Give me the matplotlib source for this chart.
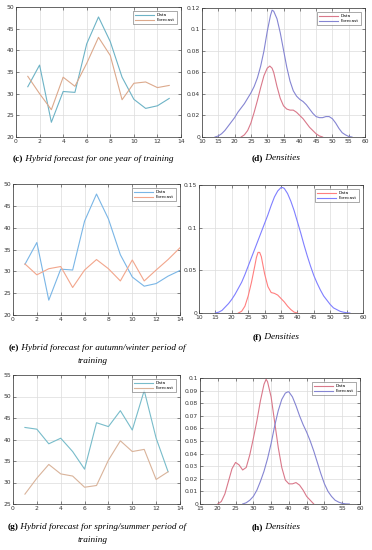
import matplotlib as mpl
mpl.use('Agg')
import matplotlib.pyplot as plt

# ---- data ----
steps13 = list(range(1, 14))
steps14 = list(range(1, 15))

c_data = [31.6, 36.6, 23.4, 30.5, 30.3, 41.5, 47.7, 42.0, 33.8, 28.7, 26.6, 27.2, 28.9]
c_fore = [34.0, 30.0, 26.3, 33.8, 31.7, 37.0, 43.0, 38.8, 28.6, 32.4, 32.7, 31.4, 31.9]

e_data = [31.6, 36.6, 23.4, 30.5, 30.3, 41.5, 47.7, 42.0, 33.8, 28.7, 26.6, 27.2, 28.9, 30.2]
e_fore = [31.7, 29.2, 30.6, 31.1, 26.3, 30.3, 32.7, 30.6, 27.8, 32.6, 27.8, 30.3, 32.7, 35.4]

g_data = [42.8, 42.4, 39.0, 40.3, 37.2, 33.1, 43.9, 43.0, 46.7, 42.2, 51.4, 40.3, 32.5]
g_fore = [27.3, 31.0, 34.2, 32.0, 31.5, 28.9, 29.3, 35.2, 39.7, 37.2, 37.7, 30.7, 32.5]

d_red_x = [22, 23, 24, 25, 26, 27, 28, 29, 30, 30.8, 31.5, 32, 33, 34, 35, 36, 37, 38,
           39, 40, 41, 42, 43, 44, 45, 46, 47]
d_red_y = [0, 0.002, 0.006, 0.013, 0.023, 0.034, 0.046, 0.057, 0.064, 0.066, 0.064, 0.060,
           0.047, 0.036, 0.029, 0.026, 0.025, 0.025, 0.023, 0.020, 0.017, 0.013, 0.009,
           0.006, 0.003, 0.001, 0]
d_blue_x = [14, 15, 16, 17, 18, 19, 20, 21, 22, 23, 24, 25, 26, 27, 28, 29, 30, 31, 31.5,
            32, 33, 34, 35, 36, 37, 38, 39, 40, 41, 42, 43, 44, 45, 46, 47, 48, 49, 50,
            51, 52, 53, 54, 55, 56]
d_blue_y = [0, 0.001, 0.003, 0.006, 0.010, 0.014, 0.018, 0.023, 0.027, 0.031, 0.036, 0.041,
            0.047, 0.055, 0.066, 0.080, 0.098, 0.113, 0.118, 0.117, 0.110, 0.097, 0.081,
            0.065, 0.052, 0.043, 0.038, 0.035, 0.033, 0.030, 0.026, 0.022, 0.019, 0.018,
            0.018, 0.019, 0.019, 0.017, 0.013, 0.008, 0.004, 0.002, 0.0005, 0]

f_red_x = [22, 23, 24, 25, 26, 27, 27.5, 28, 28.5, 29, 30, 31, 32, 33, 34, 35, 36, 37, 38,
           39, 40]
f_red_y = [0, 0.002, 0.008, 0.020, 0.036, 0.055, 0.065, 0.071, 0.071, 0.066, 0.046, 0.031,
           0.024, 0.023, 0.021, 0.017, 0.013, 0.008, 0.004, 0.001, 0]
f_blue_x = [15, 16, 17, 18, 19, 20, 21, 22, 23, 24, 25, 26, 27, 28, 29, 30, 31, 32, 33, 34,
            35, 35.5, 36, 37, 38, 39, 40, 41, 42, 43, 44, 45, 46, 47, 48, 49, 50, 51, 52,
            53, 54, 55, 56]
f_blue_y = [0, 0.001, 0.003, 0.007, 0.011, 0.016, 0.022, 0.029, 0.036, 0.045, 0.055, 0.065,
            0.075, 0.085, 0.095, 0.105, 0.115, 0.126, 0.136, 0.143, 0.147, 0.147, 0.146,
            0.140, 0.131, 0.120, 0.107, 0.094, 0.080, 0.067, 0.055, 0.044, 0.035, 0.027,
            0.020, 0.015, 0.010, 0.006, 0.004, 0.002, 0.001, 0.0003, 0]

h_red_x = [20, 21, 22, 23, 24, 25, 26, 27, 28, 29, 30, 31, 32, 33, 33.6, 34, 35, 36, 37,
           38, 39, 40, 41, 42, 43, 44, 45, 46, 47]
h_red_y = [0, 0.002, 0.008, 0.018, 0.028, 0.033, 0.031, 0.027, 0.029, 0.039, 0.052, 0.066,
           0.082, 0.095, 0.099, 0.097, 0.085, 0.065, 0.045, 0.029, 0.019, 0.016, 0.016,
           0.017, 0.015, 0.011, 0.006, 0.003, 0]
h_blue_x = [27, 28, 29, 30, 31, 32, 33, 34, 35, 36, 37, 38, 39, 39.7, 40, 41, 42, 43, 44,
            45, 46, 47, 48, 49, 50, 51, 52, 53, 54, 55, 56, 57]
h_blue_y = [0, 0.001, 0.003, 0.006, 0.011, 0.018, 0.026, 0.036, 0.048, 0.062, 0.074, 0.083,
            0.088, 0.089, 0.089, 0.085, 0.078, 0.070, 0.063, 0.057, 0.050, 0.042, 0.033,
            0.024, 0.016, 0.010, 0.006, 0.003, 0.0015, 0.0005, 0.0001, 0]

W, H = 372, 550
fig = plt.figure(figsize=(W / 100, H / 100), dpi=100)


def make_ax(x0, y0, x1, y1):
    ax = fig.add_axes([x0 / W, 1 - y1 / H, (x1 - x0) / W, (y1 - y0) / H])
    ax.grid(True, color='#dcdcdc', linewidth=0.5)
    ax.set_axisbelow(True)
    ax.tick_params(direction='in', length=2, width=0.4, labelsize=4.3,
                   colors='#333333', pad=1.5, top=True, right=True)
    for s in ax.spines.values():
        s.set_linewidth(0.5)
        s.set_color('#333333')
    return ax


def legend(ax):
    leg = ax.legend(loc='upper right', fontsize=3.1, frameon=True, fancybox=False,
                    handlelength=4.5, borderpad=0.5, labelspacing=0.25,
                    borderaxespad=0.9, handletextpad=0.6)
    leg.get_frame().set_linewidth(0.4)
    leg.get_frame().set_edgecolor('#444444')


def fmt(v):
    return ('%g' % v)


def caption(cx, y, tag, text):
    r = fig.canvas.get_renderer()
    t1 = fig.text(0, 0, tag, fontsize=6.7, family='Liberation Serif', weight='bold')
    t2 = fig.text(0, 0, ' ' + text, fontsize=6.7, family='Liberation Serif', style='italic')
    w1 = t1.get_window_extent(r).width
    w2 = t2.get_window_extent(r).width
    x = cx - (w1 + w2) / 2
    t1.set_position((x / W, 1 - y / H))
    t2.set_position(((x + w1) / W, 1 - y / H))
    t1.set_va('center')
    t2.set_va('center')


def center_text(cx, y, text):
    fig.text(cx / W, 1 - y / H, text, fontsize=6.7, family='Liberation Serif',
             style='italic', ha='center', va='center')


# (c)
ax = make_ax(16, 7, 181, 137)
ax.plot(steps13, c_data, color='#6db3c6', lw=0.8, label='Data')
ax.plot(steps13, c_fore, color='#dca98c', lw=0.8, label='Forecast')
ax.set_xlim(0, 14)
ax.set_ylim(20, 50)
ax.set_xticks(range(0, 15, 2))
ax.set_yticks(range(20, 51, 5))
legend(ax)

# (d)
ax = make_ax(202, 8, 365, 137)
ax.plot(d_red_x, d_red_y, color='#d9788a', lw=0.8, label='Data')
ax.plot(d_blue_x, d_blue_y, color='#8585d2', lw=0.8, label='Forecast')
ax.set_xlim(10, 60)
ax.set_ylim(0, 0.12)
ax.set_xticks(range(10, 61, 5))
yt = [0, 0.02, 0.04, 0.06, 0.08, 0.1, 0.12]
ax.set_yticks(yt)
ax.set_yticklabels([fmt(v) for v in yt])
legend(ax)

# (e)
ax = make_ax(13, 184, 180, 315)
ax.plot(steps14, e_data, color='#7ab6e6', lw=0.8, label='Data')
ax.plot(steps14, e_fore, color='#f2a68c', lw=0.8, label='Forecast')
ax.set_xlim(0, 14)
ax.set_ylim(20, 50)
ax.set_xticks(range(0, 15, 2))
ax.set_yticks(range(20, 51, 5))
legend(ax)

# (f)
ax = make_ax(199, 185, 363, 313)
ax.plot(f_red_x, f_red_y, color='#ff7f7f', lw=0.8, label='Data')
ax.plot(f_blue_x, f_blue_y, color='#7f7fff', lw=0.8, label='Forecast')
ax.set_xlim(10, 60)
ax.set_ylim(0, 0.15)
ax.set_xticks(range(10, 61, 5))
yt = [0, 0.05, 0.1, 0.15]
ax.set_yticks(yt)
ax.set_yticklabels([fmt(v) for v in yt])
legend(ax)

# (g)
ax = make_ax(13, 375, 180, 504)
ax.plot(steps13, g_data, color='#78bcca', lw=0.8, label='Data')
ax.plot(steps13, g_fore, color='#d9b39a', lw=0.8, label='Forecast')
ax.set_xlim(0, 14)
ax.set_ylim(25, 55)
ax.set_xticks(range(0, 15, 2))
ax.set_yticks(range(25, 56, 5))
legend(ax)

# (h)
ax = make_ax(200, 378, 360, 504)
ax.plot(h_red_x, h_red_y, color='#d9788a', lw=0.8, label='Data')
ax.plot(h_blue_x, h_blue_y, color='#8585d2', lw=0.8, label='Forecast')
ax.set_xlim(15, 60)
ax.set_ylim(0, 0.1)
ax.set_xticks(range(15, 61, 5))
yt = [round(0.01 * i, 2) for i in range(11)]
ax.set_yticks(yt)
ax.set_yticklabels([fmt(v) for v in yt])
legend(ax)

# captions
caption(93, 159, '(c)', 'Hybrid forecast for one year of training')
caption(276, 158, '(d)', 'Densities')
caption(97, 348, '(e)', 'Hybrid forecast for autumn/winter period of')
center_text(93, 361, 'training')
caption(276, 337, '(f)', 'Densities')
caption(97, 527, '(g)', 'Hybrid forecast for spring/summer period of')
center_text(93, 540, 'training')
caption(276, 527, '(h)', 'Densities')

fig.savefig('out.png', dpi=100)
plt.close(fig)
